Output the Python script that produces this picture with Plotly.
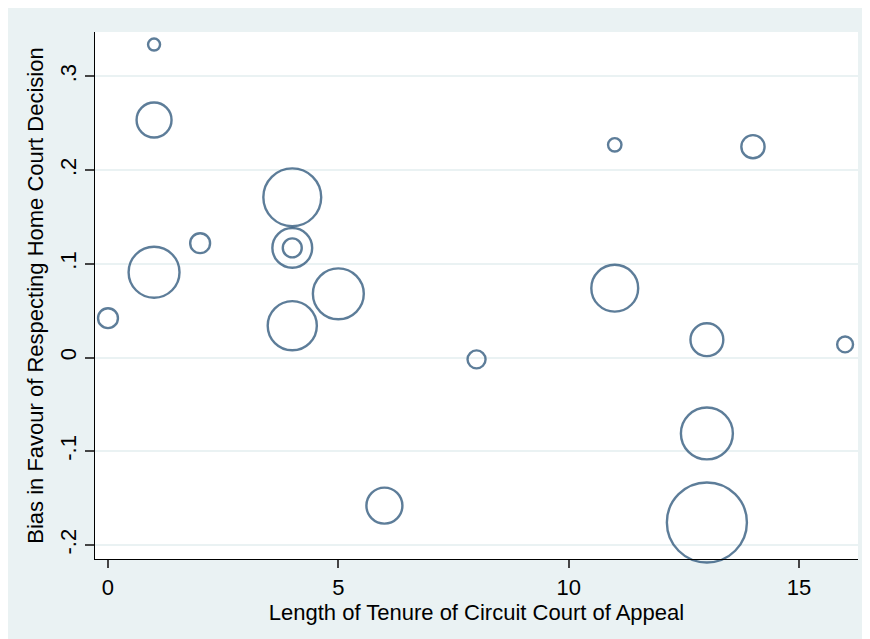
import plotly.graph_objects as go

# Data
tenure = [1, 1, 0, 1, 2, 4, 4, 4, 4, 5, 6, 8, 11, 11, 14, 13, 13, 13, 16]
bias = [0.334, 0.2535, 0.042, 0.091, 0.122, 0.171, 0.117, 0.117, 0.034, 0.068,
        -0.158, -0.002, 0.227, 0.074, 0.225, 0.019, -0.081, -0.176, 0.014]
weight = [4, 34, 11, 72, 11, 93, 44, 10, 67, 72,
          36, 9, 5, 61, 15, 30, 75, 178, 7]

x_ticks = [0, 5, 10, 15]
x_ticklabels = ["0", "5", "10", "15"]
y_ticks = [-0.2, -0.1, 0.0, 0.1, 0.2, 0.3]
y_ticklabels = ["-.2", "-.1", "0", ".1", ".2", ".3"]

NAVY = "#1A476F"
BG = "#EAF2F3"
FONT = "Liberation Sans, Arial, sans-serif"

fig = go.Figure()
fig.add_trace(go.Scatter(
    x=tenure, y=bias, mode="markers",
    marker=dict(size=weight, sizemode="area", sizeref=1/18,
                color="rgba(0,0,0,0)", line=dict(color=NAVY, width=2.4),
                symbol="circle"),
    cliponaxis=False, showlegend=False, hoverinfo="x+y",
))

fig.update_layout(
    width=870, height=639,
    margin=dict(l=87, r=20, t=24, b=88),
    paper_bgcolor=BG, plot_bgcolor="white",
    font=dict(family=FONT, size=22, color="black"),
    xaxis=dict(range=[-0.282, 16.28], tickvals=x_ticks, ticktext=x_ticklabels,
               showgrid=False, zeroline=False, showline=True, linecolor="black",
               linewidth=1.3, ticks="outside", ticklen=8, tickcolor="#444",
               tickwidth=1.5, tickfont=dict(size=22),
               title=dict(text="Length of Tenure of Circuit Court of Appeal",
                          font=dict(size=22), standoff=0)),
    yaxis=dict(range=[-0.2150, 0.3474], tickvals=y_ticks, ticktext=y_ticklabels,
               tickangle=-90, showgrid=True, gridcolor=BG, gridwidth=2,
               zeroline=False, showline=True, linecolor="black", linewidth=1.3,
               ticks="outside", ticklen=9, tickcolor="#444", tickwidth=1.5,
               tickfont=dict(size=22),
               title=dict(text="Bias in Favour of Respecting Home Court Decision",
                          font=dict(size=22), standoff=6)),
)

fig.write_html("out.html")
